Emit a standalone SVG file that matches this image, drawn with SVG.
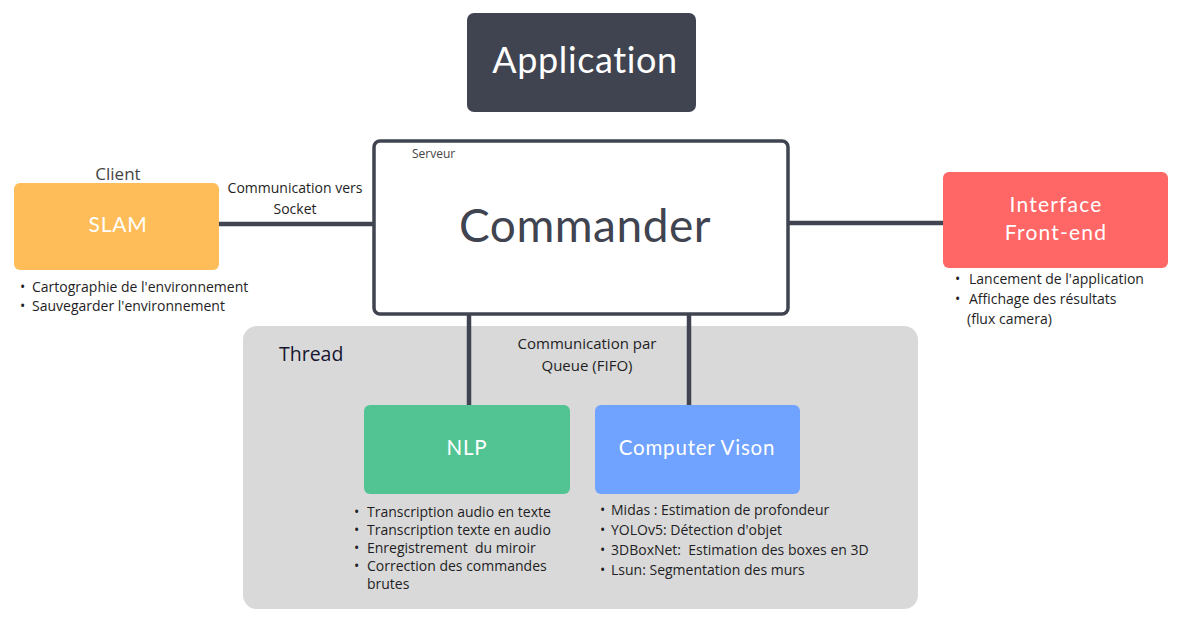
<svg xmlns="http://www.w3.org/2000/svg" width="1178" height="631" viewBox="0 0 1178 631">
<style>
.title{font-family:Lato,"Open Sans",sans-serif;fill:#ffffff;text-anchor:middle;letter-spacing:0.8px}
.body{font-family:"Open Sans","Noto Sans",sans-serif;font-size:14px;fill:#1e1e24}
.lbl{font-family:"Open Sans","Noto Sans",sans-serif;font-size:14px;fill:#1e1e24;text-anchor:middle}
.conn{stroke:#3f4450;stroke-width:4.5;fill:none}
</style>
<rect width="1178" height="631" fill="#ffffff"/>
<g id="thread">
<rect x="243" y="326" width="675" height="283" rx="14" fill="#d9d9d9"/>
<text x="279" y="361" style="font-family:'Open Sans',sans-serif;font-size:19.5px;fill:#161630">Thread</text>
</g>
<g id="connectors">
<line class="conn" x1="219" y1="224" x2="374" y2="224"/>
<line class="conn" x1="789" y1="223" x2="943" y2="223"/>
<line class="conn" x1="469" y1="315" x2="469" y2="405"/>
<line class="conn" x1="689" y1="315" x2="689" y2="405"/>
<text class="lbl" x="295" y="193">Communication vers</text>
<text class="lbl" x="295" y="214">Socket</text>
<text class="lbl" x="587" y="349" style="font-size:15px">Communication par</text>
<text class="lbl" x="587" y="371" style="font-size:15px">Queue (FIFO)</text>
</g>
<g id="application">
<rect x="467" y="13" width="229" height="99" rx="7" fill="#3f4450"/>
<text class="title" x="585" y="73" style="font-size:36px;letter-spacing:0.6px">Application</text>
</g>
<g id="commander">
<rect x="374" y="141" width="414" height="173" rx="6" fill="#ffffff" stroke="#3f4450" stroke-width="3.5"/>
<text x="412" y="158" style="font-family:'Open Sans',sans-serif;font-size:12px;fill:#444">Serveur</text>
<text x="585" y="242" style="font-family:Lato,sans-serif;font-size:46px;fill:#3f4450;text-anchor:middle;letter-spacing:0.5px">Commander</text>
</g>
<g id="slam">
<text x="118" y="180" style="font-family:'Open Sans',sans-serif;font-size:17px;fill:#444;text-anchor:middle">Client</text>
<rect x="14" y="183" width="205" height="87" rx="6" fill="#ffbd59"/>
<text class="title" x="118" y="232" style="font-size:21px">SLAM</text>
<text class="body" x="20" y="292">•</text><text class="body" x="32" y="292">Cartographie de l'environnement</text>
<text class="body" x="20" y="311">•</text><text class="body" x="32" y="311">Sauvegarder l'environnement</text>
</g>
<g id="interface">
<rect x="943" y="172" width="225" height="96" rx="6" fill="#ff6666"/>
<text class="title" x="1056" y="212" style="font-size:21px;letter-spacing:1.2px">Interface</text>
<text class="title" x="1056" y="240" style="font-size:21px;letter-spacing:1.2px">Front-end</text>
<text class="body" x="955" y="284">•</text><text class="body" x="969" y="284">Lancement de l'application</text>
<text class="body" x="955" y="304">•</text><text class="body" x="969" y="304">Affichage des résultats</text>
<text class="body" x="967" y="324">(flux camera)</text>
</g>
<g id="nlp">
<rect x="364" y="405" width="206" height="89" rx="6" fill="#52c494"/>
<text class="title" x="467" y="455" style="font-size:20.5px">NLP</text>
<text class="body" x="354" y="517">•</text><text class="body" x="367" y="517">Transcription audio en texte</text>
<text class="body" x="354" y="535">•</text><text class="body" x="367" y="535">Transcription texte en audio</text>
<text class="body" x="354" y="553">•</text><text class="body" x="367" y="553" xml:space="preserve">Enregistrement  du miroir</text>
<text class="body" x="354" y="571">•</text><text class="body" x="367" y="571">Correction des commandes</text>
<text class="body" x="367" y="589">brutes</text>
</g>
<g id="computer-vision">
<rect x="595" y="405" width="205" height="89" rx="6" fill="#70a2ff"/>
<text class="title" x="697" y="455" style="font-size:20.5px">Computer Vison</text>
<text class="body" x="600" y="515">•</text><text class="body" x="611" y="515">Midas : Estimation de profondeur</text>
<text class="body" x="600" y="535">•</text><text class="body" x="611" y="535">YOLOv5: Détection d'objet</text>
<text class="body" x="600" y="555">•</text><text class="body" x="611" y="555" xml:space="preserve">3DBoxNet:  Estimation des boxes en 3D</text>
<text class="body" x="600" y="575">•</text><text class="body" x="611" y="575">Lsun: Segmentation des murs</text>
</g>
</svg>
